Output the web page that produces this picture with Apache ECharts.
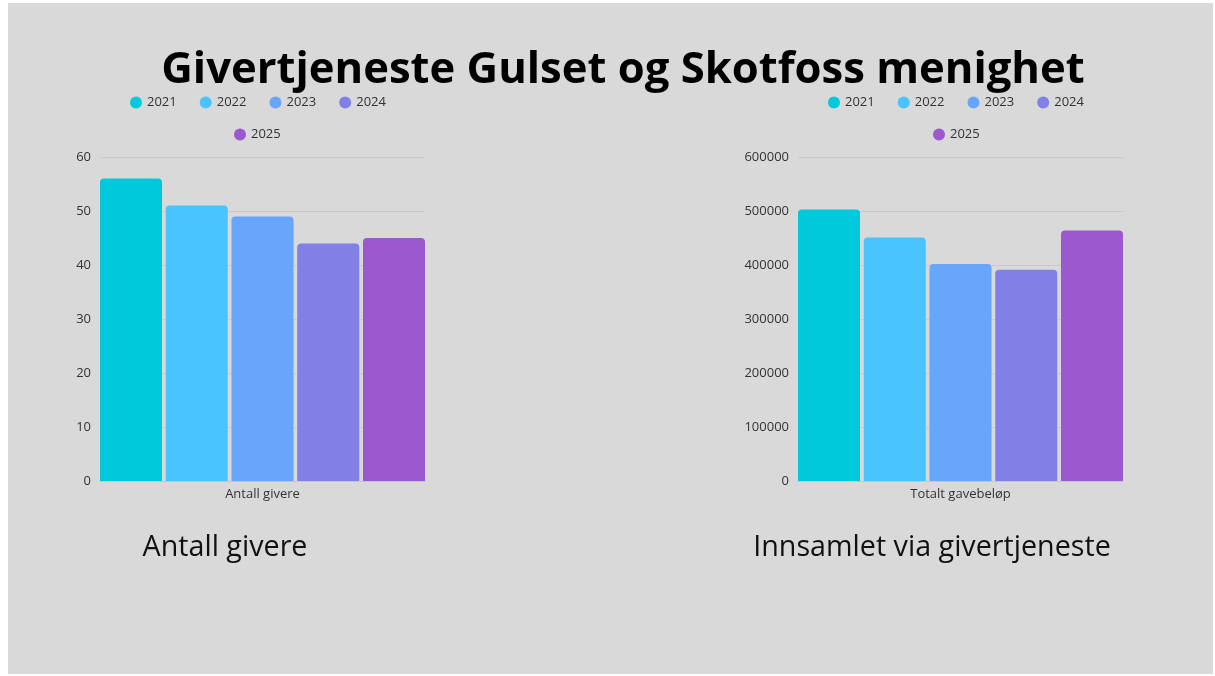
<!DOCTYPE html>
<html>
<head>
<meta charset="utf-8">
<script src="https://cdn.jsdelivr.net/npm/echarts@6/dist/echarts.min.js"></script>
<style>
  html, body { margin: 0; padding: 0; background: #fff; }
  #main { width: 1215px; height: 676px; }
</style>
</head>
<body>
<div id="main"></div>
<script>
// data
const years = ['2021', '2022', '2023', '2024', '2025'];
const giverCounts = [56, 51, 49, 44, 45];
const giftTotals = [503000, 451000, 402000, 391000, 464000];
const leftCategory = ['Antall givere'];
const rightCategory = ['Totalt gavebeløp'];
const colors = ['#00c9db', '#49c4ff', '#67a6fa', '#8080e6', '#9b59cd'];

const font = 'Open Sans';
const chart = echarts.init(document.getElementById('main'), null, { renderer: 'canvas' });

function legendRow(left, top, names) {
  return {
    left: left,
    top: top,
    data: names,
    icon: 'circle',
    itemWidth: 12,
    itemHeight: 12,
    itemGap: 23,
    textStyle: { fontFamily: font, fontSize: 13, color: '#333' }
  };
}

var series = [];
years.forEach(function (y, i) {
  series.push({
    name: y,
    type: 'bar',
    xAxisIndex: 0,
    yAxisIndex: 0,
    barGap: '6%',
    barCategoryGap: 0,
    itemStyle: { color: colors[i], borderRadius: [4, 4, 0, 0] },
    data: [giverCounts[i]]
  });
  series.push({
    name: y,
    type: 'bar',
    xAxisIndex: 1,
    yAxisIndex: 1,
    barGap: '6%',
    barCategoryGap: 0,
    itemStyle: { color: colors[i], borderRadius: [4, 4, 0, 0] },
    data: [giftTotals[i]]
  });
});

function xAxis(grid, cats) {
  return {
    type: 'category',
    gridIndex: grid,
    data: cats,
    axisTick: { show: false },
    axisLine: { lineStyle: { color: '#c6c6c6' } },
    axisLabel: { fontFamily: font, fontSize: 13, color: '#333', margin: 7 }
  };
}
function yAxis(grid, max, step) {
  return {
    type: 'value',
    gridIndex: grid,
    min: 0,
    max: max,
    interval: step,
    axisLine: { show: false },
    axisTick: { show: false },
    splitLine: { lineStyle: { color: '#c9c9c9' } },
    axisLabel: {
      fontFamily: font, fontSize: 13, color: '#333', margin: 9,
      formatter: function (v) { return String(v); }
    }
  };
}

var option = {
  animation: false,
  color: colors,
  graphic: [
    { type: 'rect', z: -10, shape: { x: 8, y: 3, width: 1205, height: 671 }, style: { fill: '#d9d9d9' } },
    { type: 'text', x: 623, y: 71,
      style: { text: 'Givertjeneste Gulset og Skotfoss menighet', font: 'bold 43.6px "Open Sans"', fill: '#000', textAlign: 'center', textVerticalAlign: 'middle' } },
    { type: 'text', x: 225, y: 548,
      style: { text: 'Antall givere', font: '28.7px "Open Sans"', fill: '#111', textAlign: 'center', textVerticalAlign: 'middle' } },
    { type: 'text', x: 932, y: 548,
      style: { text: 'Innsamlet via givertjeneste', font: '28.7px "Open Sans"', fill: '#111', textAlign: 'center', textVerticalAlign: 'middle' } }
  ],
  legend: [
    legendRow(125, 91, years.slice(0, 4)),
    legendRow(229, 123, years.slice(4)),
    legendRow(823, 91, years.slice(0, 4)),
    legendRow(928, 123, years.slice(4))
  ],
  grid: [
    { left: 100, top: 157, width: 325, height: 324 },
    { left: 798, top: 157, width: 325, height: 324 }
  ],
  xAxis: [xAxis(0, leftCategory), xAxis(1, rightCategory)],
  yAxis: [yAxis(0, 60, 10), yAxis(1, 600000, 100000)],
  series: series
};

chart.setOption(option);
</script>
</body>
</html>
